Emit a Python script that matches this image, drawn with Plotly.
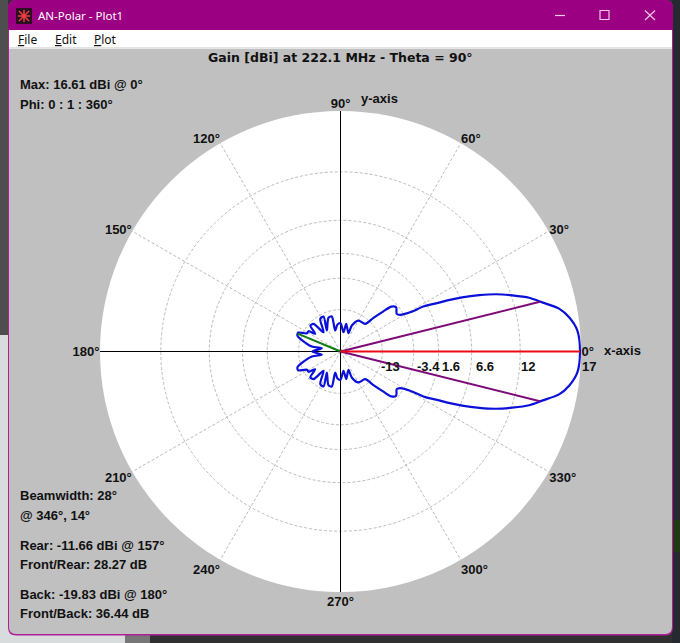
import plotly.graph_objects as go

W, H = 680, 643

# pattern, upper half (phi going 0 -> 180), the lower half mirrors it
phi_upper = [0, 5.1, 8.5, 11.1, 13.7, 15.9, 18.1, 20.2, 22.1, 24.0, 25.7, 26.3, 27.7, 28.5, 29.4,
             31.6, 33.8, 38.5, 41.4, 43.1, 45.6, 48.3, 59.9, 66.5, 66.4, 78.4, 81.2, 90, 96.3,
             104.2, 104, 109.6, 123.1, 115.9, 121.8, 131.4, 134.3, 139.4, 145, 147.6, 151.5,
             155.8, 157.3, 160.1, 162.5, 170.1, 170, 180]
gain_upper = [16.93, 16.80, 16.32, 15.68, 14.47, 13.50, 12.09, 10.62, 8.87, 6.86, 4.69, 3.73, 1.99, 0.92, -1.93,
              -4.19, -4.76, -3.92, -4.71, -7.18, -10.98, -15.1, -15.7, -19.7, -25.7, -19.8, -26.1, -19.8, -20.4,
              -24.3, -15.6, -15.7, -21.8, -14.3, -14.5, -21.4, -14.4, -13.9, -18.2, -14.7, -14.6,
              -11.3, -11.2, -11.5, -12.9, -19.3, -26.6, -19.83]

ring_gains = [12, 6.6, 1.6, -3.4, -13]
spoke_angles = [0, 30, 60, 90, 120, 150, 180, 210, 240, 270, 300, 330]
spoke_labels = ["0°", "30°", "60°", "90°", "120°", "150°", "180°", "210°", "240°", "270°", "300°", "330°"]

# marker lines: angle and gain at the tip
max_phi, max_gain = 0, 16.93
beam_phis, beam_gain = [14, 346], 14.3
rear_phi, rear_gain = 157.3, -11.2

top_gain = 17


def arrl(db):
    # ARRL log-periodic scale, 0.89 per 2 dB
    return 0.89 ** ((top_gain - db) / 2)


phi = phi_upper + [360 - p for p in reversed(phi_upper[:-1])]
gain = gain_upper + list(reversed(gain_upper[:-1]))


def px(x):
    return x / W


def py(y):
    return 1 - y / H


fig = go.Figure()

# black axes
for t in [(0, 180), (90, 270)]:
    fig.add_trace(go.Scatterpolar(r=[1, 0, 1], theta=[t[0], 0, t[1]], mode="lines",
                                  line=dict(color="black", width=1), showlegend=False))

fig.add_trace(go.Scatterpolar(r=[arrl(g) for g in gain], theta=phi, mode="lines",
                              line=dict(color="#0a10d8", width=2.2, shape="spline", smoothing=0.8),
                              showlegend=False))

for p in beam_phis:
    fig.add_trace(go.Scatterpolar(r=[0, arrl(beam_gain)], theta=[p, p], mode="lines",
                                  line=dict(color="#7d0a78", width=2), showlegend=False))
fig.add_trace(go.Scatterpolar(r=[0, arrl(rear_gain)], theta=[rear_phi, rear_phi], mode="lines",
                              line=dict(color="#0f7a14", width=2), showlegend=False))
fig.add_trace(go.Scatterpolar(r=[0, arrl(max_gain)], theta=[max_phi, max_phi], mode="lines",
                              line=dict(color="#ee0a14", width=2.2), showlegend=False))

# window chrome, in screen pixels
shapes = []


def rect(x0, y0, x1, y1, color):
    shapes.append(dict(type="rect", xref="paper", yref="paper", x0=px(x0), x1=px(x1), y0=py(y1), y1=py(y0),
                       fillcolor=color, line_width=0, layer="below"))


def seg(x0, y0, x1, y1, color, width=1):
    shapes.append(dict(type="line", xref="paper", yref="paper", x0=px(x0), x1=px(x1), y0=py(y0), y1=py(y1),
                       line=dict(color=color, width=width), layer="below"))


def panel(x0, y0, x1, y1, rad, color, top_round=True):
    # rounded panel, corners drawn as quadratic curves
    tl = f"M{px(x0 + rad)},{py(y0)} L{px(x1 - rad)},{py(y0)} Q{px(x1)},{py(y0)} {px(x1)},{py(y0 + rad)}"
    if not top_round:
        tl = f"M{px(x0)},{py(y0)} L{px(x1)},{py(y0)}"
    path = (tl + f" L{px(x1)},{py(y1 - rad)} Q{px(x1)},{py(y1)} {px(x1 - rad)},{py(y1)}"
            f" L{px(x0 + rad)},{py(y1)} Q{px(x0)},{py(y1)} {px(x0)},{py(y1 - rad)}")
    if top_round:
        path += f" L{px(x0)},{py(y0 + rad)} Q{px(x0)},{py(y0)} {px(x0 + rad)},{py(y0)}"
    path += " Z"
    shapes.append(dict(type="path", xref="paper", yref="paper", path=path, fillcolor=color,
                       line_width=0, layer="below"))


# desktop behind the window
rect(0, 0, 680, 643, "#303030")
rect(0, 0, 8, 335, "#4e4e4e")
rect(0, 335, 8, 490, "#d9dcdc")
rect(0, 490, 125, 643, "#d9dcdc")
rect(125, 635, 150, 643, "#777777")
rect(672, 0, 680, 643, "#262a30")
rect(672, 520, 680, 552, "#1f3a14")

# window body
panel(8, 0, 673, 635.5, 8, "#b01e9a")
shapes.append(dict(type="path", xref="paper", yref="paper", fillcolor="#9c0082", line_width=0, layer="below",
                   path=f"M{px(8)},{py(30)} L{px(8)},{py(8)} Q{px(8)},{py(0)} {px(16)},{py(0)} L{px(665)},{py(0)}"
                        f" Q{px(673)},{py(0)} {px(673)},{py(8)} L{px(673)},{py(30)} Z"))
panel(9, 30, 672, 634, 7, "#c0c0c0", top_round=False)
rect(9, 30, 672, 47.5, "#ffffff")
rect(9, 47.5, 672, 49, "#e6e6e6")

# icon
rect(16, 8, 32, 24, "#2a1020")
for a, b, c, d in [(18, 16, 30, 16), (24, 10, 24, 22), (19, 11, 29, 21), (29, 11, 19, 21)]:
    seg(a, b, c, d, "#f04040", 1.5)

# min / max / close
seg(555, 15.5, 565, 15.5, "#f0c8e8", 1.2)
shapes.append(dict(type="rect", xref="paper", yref="paper", x0=px(600), x1=px(609), y0=py(19.5), y1=py(10.5),
                   line=dict(color="#f0c8e8", width=1.2), layer="below"))
seg(645, 10.5, 655, 20, "#f0c8e8", 1.2)
seg(655, 10.5, 645, 20, "#f0c8e8", 1.2)


def label(x, y, text, anchor="left", size=13, family="Liberation Sans", color="#111111", bold=True):
    return dict(xref="paper", yref="paper", x=px(x), y=py(y), text=f"<b>{text}</b>" if bold else text,
                xanchor=anchor, yanchor="middle", showarrow=False,
                font=dict(family=family, size=size, color=color))


annotations = [
    label(36, 15.5, "AN-Polar - Plot1", size=11.5, family="Noto Sans", color="#ffffff", bold=False),
    label(16, 40, "<u>F</u>ile", size=12, family="Noto Sans", bold=False),
    label(53, 40, "<u>E</u>dit", size=12, family="Noto Sans", bold=False),
    label(92, 40, "<u>P</u>lot", size=12, family="Noto Sans", bold=False),
    label(340, 58, "Gain [dBi] at 222.1 MHz - Theta = 90°", anchor="center", size=12.5, family="DejaVu Sans"),
    label(18, 85, "Max: 16.61 dBi @ 0°"),
    label(18, 104, "Phi: 0 : 1 : 360°"),
    label(18, 496, "Beamwidth: 28°"),
    label(18, 515, "@ 346°, 14°"),
    label(18, 545, "Rear: -11.66 dBi @ 157°"),
    label(18, 564, "Front/Rear: 28.27 dB"),
    label(18, 594, "Back: -19.83 dBi @ 180°"),
    label(18, 613, "Front/Back: 36.44 dB"),
    label(359, 98, "y-axis"),
    label(602, 350, "x-axis"),
    label(391, 366, "-13", anchor="center"),
    label(428, 366, "-3.4", anchor="center"),
    label(451, 366, "1.6", anchor="center"),
    label(485, 366, "6.6", anchor="center"),
    label(528, 366, "12", anchor="center"),
    label(589, 366, "17", anchor="center"),
]

fig.update_layout(
    width=W, height=H,
    margin=dict(l=0, r=0, t=0, b=0),
    paper_bgcolor="#c0c0c0",
    showlegend=False,
    shapes=shapes,
    annotations=annotations,
    polar=dict(
        domain=dict(x=[px(100), px(581)], y=[py(592), py(111)]),
        bgcolor="white",
        radialaxis=dict(range=[0, 1], tickvals=[arrl(g) for g in ring_gains], showticklabels=False,
                        ticks="", showline=False, gridcolor="#bbbbbb", griddash="3px,2px", gridwidth=1),
        angularaxis=dict(tickmode="array", tickvals=spoke_angles, ticktext=[f"<b>{s}</b>" for s in spoke_labels],
                         direction="counterclockwise", rotation=0, ticks="", showline=False,
                         gridcolor="#bbbbbb", griddash="3px,2px", gridwidth=1,
                         tickfont=dict(family="Liberation Sans", size=13, color="#111111")),
    ),
)

fig.write_html("out.html", config={"displayModeBar": False},
               post_script="document.body.style.margin='0';")
